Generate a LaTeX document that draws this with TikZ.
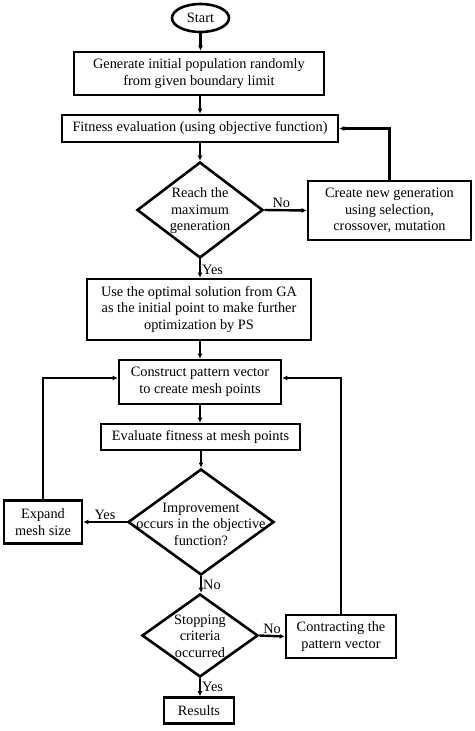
\documentclass[tikz,border=0pt]{standalone}
\usepackage{fontspec}
\setmainfont{Liberation Serif}
\usetikzlibrary{shapes.geometric,arrows.meta}
\begin{document}
\begin{tikzpicture}[x=1pt,y=-1pt,
  every node/.style={font=\fontsize{14.3}{16.5}\selectfont},
  box/.style={draw,line width=2.6pt,rectangle,inner sep=0pt,align=center},
  dia/.style={draw,line width=2.6pt,diamond,inner sep=0pt},
  txt/.style={align=center,inner sep=0pt},
  lab/.style={inner sep=1pt},
  conn/.style={line width=2.4pt,-{Latex[length=5pt,width=5pt]}}]
\useasboundingbox (0,0) rectangle (474,731);
\node[draw,line width=2.6pt,ellipse,minimum width=57pt,minimum height=28pt,inner sep=0pt] (start) at (200.5,18) {Start};
\node[box,minimum width=250pt,minimum height=43pt] (b1) at (199,73.5) {Generate initial population randomly\\from given boundary limit};
\node[box,minimum width=276pt,minimum height=27pt] (b2) at (200,128.5) {Fitness evaluation (using objective function)};
\node[dia,minimum width=126pt,minimum height=96pt] (d1) at (200,210) {};
\node[txt] at (200,211) {Reach the\\maximum\\generation};
\node[box,minimum width=163pt,minimum height=59pt] (cr) at (389.5,210.5) {Create new generation\\using selection,\\crossover, mutation};
\node[box,minimum width=224pt,minimum height=61pt] (b3) at (199,309.5) {Use the optimal solution from GA\\as the initial point to make further\\optimization by PS};
\node[box,minimum width=162pt,minimum height=44pt] (b4) at (200,382) {Construct pattern vector\\to create mesh points};
\node[box,minimum width=199pt,minimum height=26pt] (b5) at (200.5,437) {Evaluate fitness at mesh points};
\node[dia,minimum width=146pt,minimum height=106pt] (d2) at (201,522) {};
\node[txt] at (201,524) {Improvement\\occurs in the objective\\function?};
\node[box,minimum width=78pt,minimum height=43pt] (ex) at (43,522) {Expand\\mesh size};
\node[dia,minimum width=116pt,minimum height=83pt] (d3) at (200,635.5) {};
\node[txt] at (200,636) {Stopping\\criteria\\occurred};
\node[box,minimum width=110pt,minimum height=43pt] (co) at (341,636.5) {Contracting the\\pattern vector};
\node[box,minimum width=70pt,minimum height=26pt] (res) at (199,710.5) {Results};
\draw[conn] (start) -- (start |- b1.north);
\draw[conn] (b2 |- b1.south) -- (b2.north);
\draw[conn] (b2.south) -- (d1.north);
\draw[conn] (d1.east) -- node[lab,above,pos=0.4]{No} (cr.west);
\draw[conn] (cr.north) |- (b2.east);
\draw[conn] (d1.south) -- node[lab,right,pos=0.55]{Yes} (d1.south |- b3.north);
\draw[conn] (b4 |- b3.south) -- (b4.north);
\draw[conn] (b4.south) -- (b4.south |- b5.north);
\draw[conn] (d2 |- b5.south) -- (d2.north);
\draw[conn] (d2.west) -- node[lab,above]{Yes} (ex.east);
\draw[conn] (ex.north) |- ([yshift=4pt]b4.west);
\draw[conn] (d2.south) -- node[lab,right]{No} (d2.south |- d3.north);
\draw[conn] (d3.east) -- node[lab,above]{No} (co.west);
\draw[conn] (co.north) |- ([yshift=4pt]b4.east);
\draw[conn] (d3.south) -- node[lab,right]{Yes} (d3.south |- res.north);
\end{tikzpicture}
\end{document}
